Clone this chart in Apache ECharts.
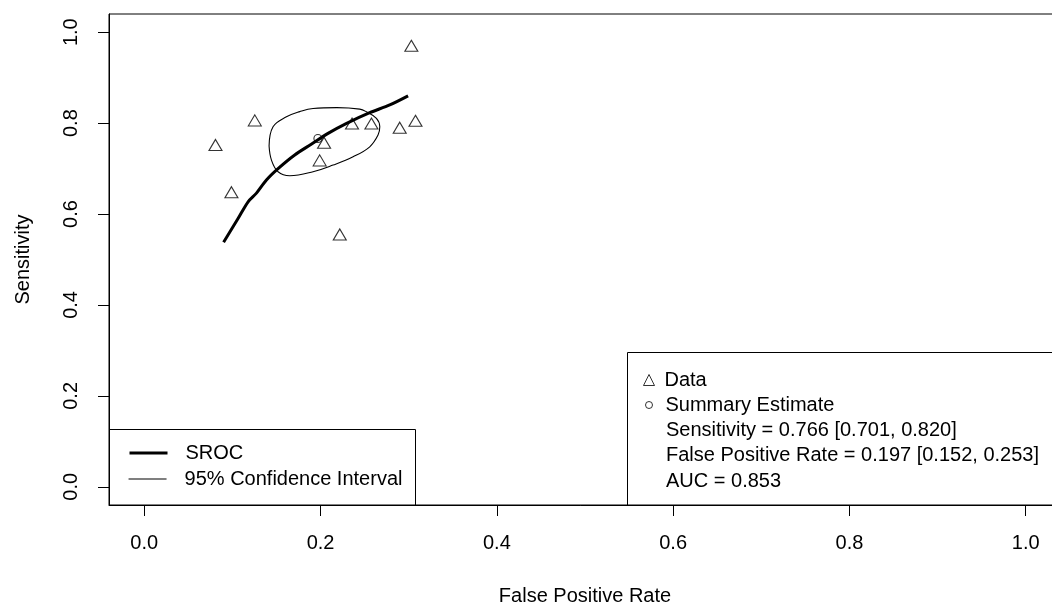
<!DOCTYPE html>
<html>
<head>
<meta charset="utf-8">
<script src="https://cdn.jsdelivr.net/npm/echarts@6/dist/echarts.min.js"></script>
<style>html,body{margin:0;padding:0;background:#fff;}#c{width:1052px;height:606px;}</style>
</head>
<body>
<div id="c"></div>
<script>
// Study data (False Positive Rate, Sensitivity)
const dataPoints = [
  [0.0808, 0.752], [0.0989, 0.648], [0.1254, 0.806], [0.1990, 0.718],
  [0.2040, 0.757], [0.2218, 0.555], [0.2357, 0.799], [0.2577, 0.799],
  [0.2898, 0.790], [0.3030, 0.970], [0.3077, 0.805]
];
// Summary estimate
const summaryPoint = [[0.197, 0.766]];
// SROC curve
const srocCurve = [
  [0.0900, 0.538], [0.1064, 0.590], [0.1178, 0.627], [0.1273, 0.646],
  [0.1386, 0.675], [0.1518, 0.700], [0.1707, 0.730], [0.1890, 0.753],
  [0.2090, 0.778], [0.2290, 0.799], [0.2558, 0.823], [0.2785, 0.840],
  [0.2993, 0.860]
];
// 95% confidence region (ellipse)
const confRegion = [
  [0.1416, 0.7495], [0.1461, 0.7919], [0.1613, 0.8138], [0.1764, 0.8253],
  [0.1915, 0.8323], [0.2184, 0.8341], [0.2445, 0.8308], [0.2521, 0.8248],
  [0.2634, 0.8103], [0.2672, 0.7919], [0.2652, 0.7736], [0.2558, 0.7479],
  [0.2369, 0.7259], [0.2142, 0.7077], [0.1915, 0.6930], [0.1651, 0.6842],
  [0.1518, 0.6930], [0.1443, 0.7187], [0.1416, 0.7495]
];
const tickValues = [0, 0.2, 0.4, 0.6, 0.8, 1.0];
const summaryLines = [
  'Sensitivity = 0.766 [0.701, 0.820]',
  'False Positive Rate = 0.197 [0.152, 0.253]',
  'AUC = 0.853'
];

const FONT = "'Liberation Sans', Arial, sans-serif";
const chart = echarts.init(document.getElementById('c'), null, {renderer: 'canvas'});

function axisCommon(name, gap, isY) {
  return {
    type: 'value', min: -0.04, max: 1.04,
    name: name, nameLocation: 'middle', nameGap: gap,
    nameTextStyle: {fontSize: 20, color: '#000', fontFamily: FONT},
    axisLine: {show: true, onZero: false, lineStyle: {color: '#000', width: 1}},
    splitLine: {show: false},
    axisTick: {show: true, length: 11, inside: false, customValues: tickValues,
               lineStyle: {color: '#000', width: 1}},
    axisLabel: {customValues: tickValues, fontSize: 20, color: '#000', fontFamily: FONT,
                margin: 28, rotate: isY ? 90 : 0,
                formatter: v => v.toFixed(1)}
  };
}

const legendBase = {
  orient: 'vertical', padding: 0, selectedMode: false, z: 70,
  textStyle: {fontSize: 20, color: '#000', fontFamily: FONT}
};
function lineLegend(name, top, width) {
  return Object.assign({}, legendBase, {
    data: [name], left: 128, top: top, itemWidth: 38, itemHeight: 12,
    lineStyle: {color: '#000', width: width},
    itemStyle: {color: 'none', borderWidth: 0, opacity: 0},
    textStyle: Object.assign({}, legendBase.textStyle, {padding: [0, 0, 0, 13]})
  });
}
function symbolLegend(name, left, top, size, pad) {
  return Object.assign({}, legendBase, {
    data: [name], left: left, top: top, itemWidth: size, itemHeight: size,
    itemStyle: {color: 'none', borderColor: '#000', borderWidth: 1},
    textStyle: Object.assign({}, legendBase.textStyle, {padding: [0, 0, 0, pad]})
  });
}

const option = {
  animation: false,
  backgroundColor: '#fff',
  grid: {left: 109, top: 14, width: 952, height: 491, show: true, outerBoundsMode: 'none',
         containLabel: false, borderColor: '#000', borderWidth: 1, backgroundColor: 'transparent'},
  xAxis: axisCommon('False Positive Rate', 81, false),
  yAxis: axisCommon('Sensitivity', 76, true),
  legend: [
    lineLegend('SROC', 443, 3),
    lineLegend('95% Confidence Interval', 469, 1.1),
    symbolLegend('Data', 641, 370, 11, 5),
    symbolLegend('Summary Estimate', 643, 395, 7, 8)
  ],
  graphic: [
    {type: 'rect', z: 1, shape: {x: 109.5, y: 429.5, width: 306, height: 76},
     style: {fill: 'none', stroke: '#000', lineWidth: 1}},
    {type: 'rect', z: 1, shape: {x: 627.5, y: 352.5, width: 434, height: 153},
     style: {fill: 'none', stroke: '#000', lineWidth: 1}}
  ].concat(summaryLines.map((t, i) => ({
    type: 'text', z: 60, x: 666, y: 430 + i * 25.8,
    style: {text: t, fontSize: 20, fontFamily: FONT, fill: '#000', verticalAlign: 'middle', align: 'left'}
  }))),
  series: [
    {name: 'Data', type: 'scatter', data: dataPoints, symbol: 'triangle', symbolSize: [13, 11],
     itemStyle: {color: 'none', borderColor: '#000', borderWidth: 1.1}, z: 3},
    {name: 'Summary Estimate', type: 'scatter', data: summaryPoint, symbol: 'circle', symbolSize: 8,
     itemStyle: {color: 'none', borderColor: '#000', borderWidth: 1.1}, z: 3},
    {name: 'SROC', type: 'line', data: srocCurve, symbol: 'none', smooth: 0.3,
     itemStyle: {color: 'none'},
     lineStyle: {color: '#000', width: 3}, z: 4},
    {name: '95% Confidence Interval', type: 'line', data: confRegion, symbol: 'none', smooth: 0.4,
     itemStyle: {color: 'none'},
     lineStyle: {color: '#000', width: 1.1}, z: 4}
  ]
};
chart.setOption(option);
</script>
</body>
</html>
